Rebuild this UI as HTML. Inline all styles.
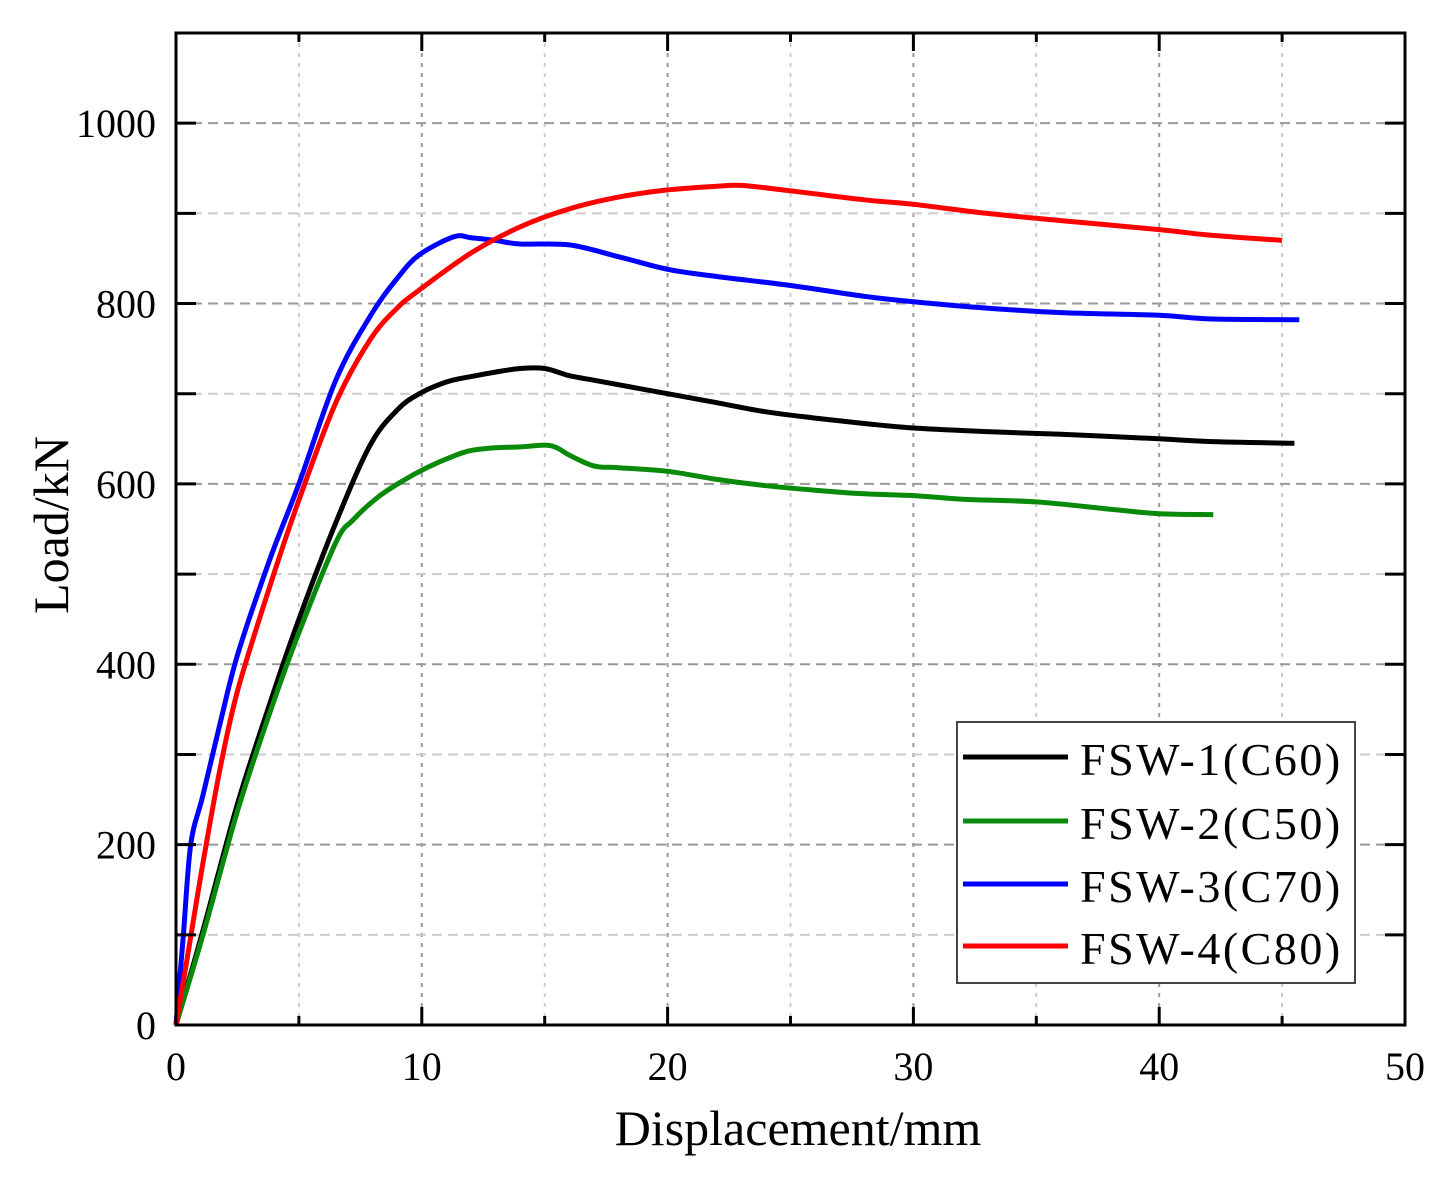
<!DOCTYPE html>
<html><head><meta charset="utf-8"><style>
body{margin:0;background:#fff;}
svg text{font-family:"Liberation Serif",serif;}
</style></head><body>
<svg id="chart" width="1453" height="1184" viewBox="0 0 1453 1184" xmlns="http://www.w3.org/2000/svg">
<g id="grid"></g>
<g id="series"></g>
<rect x="176" y="33" width="1229" height="992" fill="none" stroke="#000" stroke-width="3"/>
<g id="ticks"></g>
<text transform="translate(68,525) rotate(-90)" text-anchor="middle" font-size="50">Load/kN</text>
<text x="798" y="1145" text-anchor="middle" font-size="50">Displacement/mm</text>
<g>
<rect x="957" y="722" width="398" height="261" fill="#fff" stroke="#444" stroke-width="2"/>
<line x1="963" y1="757" x2="1068" y2="757" stroke="#000" stroke-width="5"/>
<text x="1080" y="775" font-size="46" letter-spacing="2.5">FSW-1(C60)</text>
<line x1="963" y1="821" x2="1068" y2="821" stroke="#0a8a0a" stroke-width="5"/>
<text x="1080" y="839" font-size="46" letter-spacing="2.5">FSW-2(C50)</text>
<line x1="963" y1="884" x2="1068" y2="884" stroke="#0000ff" stroke-width="5"/>
<text x="1080" y="902" font-size="46" letter-spacing="2.5">FSW-3(C70)</text>
<line x1="963" y1="946" x2="1068" y2="946" stroke="#ff0000" stroke-width="5"/>
<text x="1080" y="964" font-size="46" letter-spacing="2.5">FSW-4(C80)</text>
</g>
</svg>
<script>
const xTicks=[0,10,20,30,40,50];
const yTicks=[0,200,400,600,800,1000];
const seriesNames=["FSW-1(C60)","FSW-2(C50)","FSW-3(C70)","FSW-4(C80)"];
const fsw1X=[0,1.1,2.5,3.8,5,6.5,7.9,9,9.9,11,12,13,14,15,16,17,18,20,22,24,26,28,30,33,36,40,42,45.5];
const fsw1Y=[0,105,245,355,450,557,643,682,700,713,719,724,728,728,720,715,710,700,690,680,673,667,662,658,655,650,647,645];
const fsw2X=[0,1.1,2.5,3.8,5,6.5,7.2,8.2,9.2,10.2,11.3,12,13,14,15,15.5,16,17,18,20,22,24,26,28,30,32,35,38,40,42.2];
const fsw2Y=[0,100,237,345,435,535,560,585,603,618,631,637,640,641,643,640,632,620,618,614,605,598,593,589,587,583,580,572,567,566];
const fsw3X=[0,0.3,0.6,1.1,1.8,2.5,3.8,5,6.5,7.9,9,9.9,11.3,12,13,14,16,18,20,22,25,28,30,33,36,40,42,45.7];
const fsw3Y=[0,100,200,255,335,410,515,600,715,786,828,854,874,873,870,866,865,852,838,830,820,808,802,795,790,787,783,782];
const fsw4X=[0,0.43,1.1,1.8,2.5,3.8,5,6.5,7.9,9,9.9,12,14,16,18,20,22,23,25,28,30,33,36,40,42,45];
const fsw4Y=[0,70,180,285,370,485,582,690,760,795,815,856,885,905,918,926,930,931,925,915,910,900,892,882,876,870];
const L=176,R=1405,T=33,B=1025,XMAX=50,YMAX=1100;
const sx=v=>L+(R-L)*v/XMAX, sy=v=>B-(B-T)*v/YMAX;
const NS="http://www.w3.org/2000/svg";
function mk(tag,attrs,parent){const e=document.createElementNS(NS,tag);for(const k in attrs)e.setAttribute(k,attrs[k]);parent.appendChild(e);return e;}
const grid=document.getElementById('grid'),ticks=document.getElementById('ticks'),ser=document.getElementById('series');
for(let v=5;v<XMAX;v+=5){const major=v%10===0;
 const g=mk('line',{x1:sx(v),x2:sx(v),y1:T,y2:B,stroke:major?'#999':'#ccc','stroke-width':2,'stroke-dasharray':'4,6'},grid);
 }
for(let v=100;v<YMAX;v+=100){const major=v%200===0;
 const g=mk('line',{x1:L,x2:R,y1:sy(v),y2:sy(v),stroke:major?'#999':'#ccc','stroke-width':2,'stroke-dasharray':'10,6'},grid);
 }
for(let v=5;v<XMAX;v+=5){const len=v%10===0?18:9;
 for(const [y0,d] of [[B,-1],[T,1]]){const t=mk('line',{x1:sx(v),x2:sx(v),y1:y0,y2:y0+d*len,stroke:'#000','stroke-width':3},ticks);
 }}
for(let v=100;v<YMAX;v+=100){const len=20;
 for(const [x0,d] of [[L,1],[R,-1]]){const t=mk('line',{x1:x0,x2:x0+d*len,y1:sy(v),y2:sy(v),stroke:'#000','stroke-width':3},ticks);
 }}
xTicks.forEach(v=>{const t=mk('text',{x:sx(v),y:1080,'text-anchor':'middle','font-size':40},ticks);t.textContent=v;
 });
yTicks.forEach(v=>{const t=mk('text',{x:156,y:sy(v)+14,'text-anchor':'end','font-size':40},ticks);t.textContent=v;
 });
function smoothPath(xs,ys){
 const P=xs.map((x,i)=>[sx(x),sy(ys[i])]);
 let d='M'+P[0][0].toFixed(1)+','+P[0][1].toFixed(1);
 for(let i=0;i<P.length-1;i++){
  const p0=P[Math.max(0,i-1)],p1=P[i],p2=P[i+1],p3=P[Math.min(P.length-1,i+2)];
  const c1=[p1[0]+(p2[0]-p0[0])/6,p1[1]+(p2[1]-p0[1])/6];
  const c2=[p2[0]-(p3[0]-p1[0])/6,p2[1]-(p3[1]-p1[1])/6];
  d+='C'+c1.map(v=>v.toFixed(1)).join(',')+' '+c2.map(v=>v.toFixed(1)).join(',')+' '+p2[0].toFixed(1)+','+p2[1].toFixed(1);
 }
 return d;
}
const all=[[fsw1X,fsw1Y,'#000','series-fsw1'],[fsw2X,fsw2Y,'#0a8a0a','series-fsw2'],[fsw3X,fsw3Y,'#0000ff','series-fsw3'],[fsw4X,fsw4Y,'#ff0000','series-fsw4']];
all.forEach(([xs,ys,c,n])=>{
 const p=mk('path',{d:smoothPath(xs,ys),fill:'none',stroke:c,'stroke-width':5,'stroke-linejoin':'round'},ser);
 });
</script>
</body></html>
